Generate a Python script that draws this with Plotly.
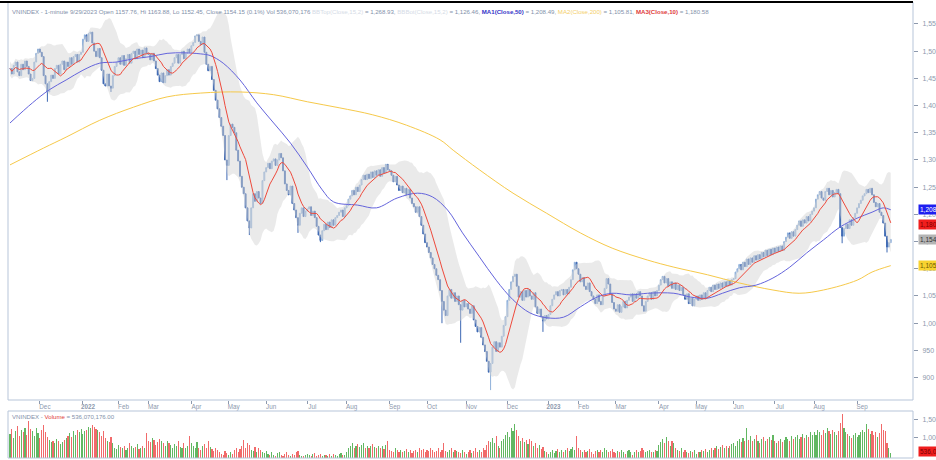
import pandas as pd
import numpy as np
import plotly.graph_objects as go

# ---------------- data ----------------
start_date = "2021-11-09"
end_date = "2023-09-29"
holidays = ["2022-01-03", "2022-01-31", "2022-02-01", "2022-02-02", "2022-02-03", "2022-02-04",
            "2022-04-11", "2022-05-02", "2022-05-03", "2022-09-01", "2022-09-02",
            "2023-01-02", "2023-01-20", "2023-01-23", "2023-01-24", "2023-01-25", "2023-01-26",
            "2023-05-01", "2023-05-02", "2023-05-03", "2023-09-01", "2023-09-04"]

close = [
    # Nov 2021
    1468, 1458, 1474, 1480, 1462, 1455, 1476, 1466, 1482, 1472, 1458, 1446, 1450, 1480, 1496, 1504,
    # Dec 2021
    1498, 1490, 1455, 1440, 1425, 1444, 1456, 1450, 1468, 1474, 1458, 1476, 1482, 1466, 1480, 1472,
    1488, 1476, 1490, 1494, 1480, 1494, 1498,
    # Jan 2022
    1522, 1530, 1518, 1532, 1535, 1515, 1500, 1490, 1505, 1488, 1465, 1440, 1436, 1458, 1436, 1432,
    1455, 1472, 1480,
    # Feb 2022
    1488, 1476, 1492, 1474, 1486, 1494, 1478, 1496, 1500, 1486, 1504, 1494, 1502, 1488, 1506, 1496,
    # Mar 2022
    1494, 1484, 1496, 1482, 1468, 1456, 1444, 1460, 1442, 1455, 1466, 1456, 1472, 1478, 1488, 1494,
    1478, 1494, 1500, 1486, 1496, 1504, 1498,
    # Apr 2022
    1510, 1516, 1528, 1530, 1518, 1512, 1526, 1498, 1476, 1464, 1472, 1448, 1428, 1410, 1394, 1378,
    1362, 1345, 1300, 1290,
    # May 2022
    1345, 1366, 1360, 1350, 1318, 1298, 1270, 1250, 1238, 1212, 1188, 1175, 1212, 1238, 1224, 1242,
    1230, 1220, 1262, 1278,
    # Jun 2022
    1286, 1294, 1284, 1298, 1302, 1290, 1300, 1312, 1304, 1280, 1256, 1244, 1236, 1252, 1220, 1208,
    1194, 1180, 1202, 1212, 1196, 1206,
    # Jul 2022
    1210, 1214, 1198, 1206, 1194, 1178, 1162, 1152, 1170, 1182, 1172, 1186, 1176, 1190, 1180, 1194,
    1198, 1204, 1208, 1196, 1212,
    # Aug 2022
    1216, 1228, 1234, 1244, 1236, 1250, 1242, 1254, 1264, 1272, 1264, 1274, 1266, 1278, 1268, 1280,
    1272, 1282, 1270, 1286, 1276, 1292, 1282,
    # Sep 2022
    1280, 1272, 1260, 1270, 1254, 1244, 1252, 1240, 1248, 1236, 1246, 1230, 1220, 1214, 1204, 1214,
    1196, 1180, 1164, 1148,
    # Oct 2022
    1140, 1130, 1120, 1108, 1100, 1088, 1080, 1060, 1040, 1024, 1014, 1050, 1062, 1046, 1056, 1040,
    1050, 1034, 1024, 1042, 1030,
    # Nov 2022
    1036, 1026, 1018, 1032, 1006, 994, 984, 992, 974, 960, 948, 930, 910, 926, 956, 966,
    948, 964, 956, 976, 996, 1012,
    # Dec 2022
    1042, 1062, 1076, 1086, 1090, 1068, 1048, 1058, 1042, 1060, 1048, 1062, 1050, 1044, 1056, 1030,
    1018, 1026, 1012, 1004, 1014, 1008,
    # Jan 2023
    1016, 1032, 1044, 1052, 1058, 1050, 1060, 1062, 1052, 1062, 1054, 1066, 1080, 1098, 1112, 1100,
    # Feb 2023
    1090, 1076, 1084, 1068, 1062, 1074, 1058, 1050, 1044, 1036, 1052, 1040, 1034, 1050, 1064, 1082,
    1072, 1054, 1038, 1026,
    # Mar 2023
    1022, 1034, 1020, 1030, 1040, 1028, 1042, 1048, 1054, 1040, 1054, 1046, 1058, 1050, 1032, 1022,
    1040, 1050, 1056, 1044, 1058, 1050, 1060,
    # Apr 2023
    1070, 1080, 1086, 1074, 1082, 1068, 1076, 1064, 1074, 1062, 1070, 1060, 1066, 1052, 1044, 1054,
    1036, 1046, 1032, 1044,
    # May 2023
    1050, 1042, 1052, 1044, 1056, 1046, 1060, 1066, 1058, 1070, 1062, 1072, 1064, 1074, 1066, 1076,
    1068, 1078, 1070, 1080,
    # Jun 2023
    1082, 1094, 1100, 1108, 1098, 1112, 1104, 1118, 1108, 1120, 1112, 1124, 1116, 1126, 1118, 1130,
    1122, 1134, 1124, 1136, 1126, 1138,
    # Jul 2023
    1130, 1140, 1132, 1142, 1134, 1150, 1158, 1166, 1156, 1168, 1160, 1172, 1180, 1188, 1178, 1190,
    1184, 1196, 1188, 1200, 1206,
    # Aug 2023
    1212, 1228, 1236, 1242, 1230, 1226, 1242, 1248, 1236, 1244, 1232, 1240, 1246, 1238, 1176, 1160,
    1174, 1182, 1174, 1190, 1180, 1194, 1202,
    # Sep 2023
    1212, 1220, 1226, 1234, 1238, 1246, 1240, 1248, 1236, 1222, 1214, 1220, 1204, 1198, 1184, 1160,
    1140, 1148, 1154,
]

# lower shadows visible on the chart (bar index -> low)
wick_low_idx = [20, 54, 116, 128, 154, 166, 231, 241, 257, 285, 445, 469]
wick_low_val = [1407, 1425, 1263, 1162, 1166, 1149, 1000, 964, 877, 984, 1147, 1130]

volume = [
    # Nov 2021
    1100, 1250, 980, 1180, 1320, 1050, 1200, 1150, 1280, 1080, 1470, 1230, 1180, 1050, 1280, 1120,
    # Dec 2021
    980, 1200, 1350, 1150, 1000, 920, 850, 900, 820, 950, 880, 800, 860, 920, 980, 1050, 1120, 1000,
    1180, 1080, 1200, 1150, 1250,
    # Jan 2022
    1100, 1180, 1220, 1300, 1280, 1350, 1300, 1240, 1200, 1150, 1050, 1180, 980, 900, 850, 1000,
    820, 700, 650,
    # Feb 2022
    780, 720, 680, 750, 640, 700, 820, 760, 680, 720, 800, 650, 700, 740, 690, 1130,
    # Mar 2022
    900, 850, 980, 920, 780, 860, 950, 880, 820, 760, 900, 840, 780, 700, 800, 750, 880, 720, 680,
    820, 700, 760, 1030,
    # Apr 2022
    820, 760, 700, 850, 680, 620, 740, 800, 680, 880, 720, 650, 600, 700, 640, 560, 520, 480, 590, 540,
    # May 2022
    500, 560, 520, 620, 700, 580, 660, 760, 930, 700, 820, 790, 640, 600, 720, 560, 680, 620, 580, 540,
    # Jun 2022
    600, 520, 480, 560, 500, 460, 540, 580, 500, 470, 520, 560, 490, 450, 530, 480, 560, 590, 500,
    470, 450, 500,
    # Jul 2022
    520, 480, 460, 510, 540, 470, 490, 530, 460, 500, 480, 450, 520, 470, 510, 490, 460, 520, 540, 500, 480,
    # Aug 2022
    560, 700, 760, 820, 690, 740, 800, 720, 780, 830, 700, 760, 690, 750, 810, 720, 680, 760, 700,
    740, 650, 780, 880,
    # Sep 2022
    640, 600, 560, 680, 620, 580, 640, 560, 600, 660, 580, 620, 540, 600, 640, 580, 700, 620, 660, 580,
    # Oct 2022
    640, 600, 680, 620, 560, 600, 700, 580, 640, 820, 600, 560, 620, 680, 580, 640, 600, 560, 540, 620, 580,
    # Nov 2022
    520, 560, 620, 540, 600, 680, 580, 640, 560, 700, 620, 780, 900, 860, 980, 820, 1030, 760, 700,
    880, 960, 1080,
    # Dec 2022
    1150, 1020, 1280, 1180, 1380, 1200, 1050, 900, 980, 860, 920, 800, 960, 880, 760, 820, 700, 780,
    650, 720, 600, 560,
    # Jan 2023
    520, 580, 620, 540, 600, 660, 560, 620, 580, 640, 700, 600, 660, 720, 620, 1030,
    # Feb 2023
    700, 640, 580, 620, 560, 600, 660, 580, 520, 600, 640, 560, 620, 580, 700, 640, 560, 600, 660, 580,
    # Mar 2023
    540, 600, 560, 620, 580, 520, 600, 640, 560, 500, 580, 620, 560, 600, 680, 640, 560, 600, 620,
    580, 560, 640, 600,
    # Apr 2023
    780, 860, 940, 820, 1000, 880, 760, 900, 820, 700, 640, 600, 680, 560, 620, 580, 540, 600, 560, 620,
    # May 2023
    520, 580, 560, 620, 600, 660, 580, 640, 700, 620, 680, 740, 660, 720, 780, 700, 760, 680, 740, 800,
    # Jun 2023
    820, 760, 880, 940, 860, 980, 900, 1280, 920, 1040, 880, 960, 1080, 900, 840, 960, 1020, 880,
    940, 1000, 920, 1060,
    # Jul 2023
    900, 820, 880, 960, 860, 920, 1000, 940, 880, 1040, 960, 1000, 1080, 940, 1020, 1100, 980, 1060,
    1000, 1140, 1080,
    # Aug 2023
    1160, 1060, 1220, 1140, 1080, 1200, 1120, 1260, 1180, 1100, 1220, 1140, 1060, 1180, 1400, 1670,
    1280, 1160, 1100, 1040, 980, 1060, 1120,
    # Sep 2023
    1000, 1080, 1140, 1200, 1160, 1370, 1240, 1100, 1180, 1060, 1140, 1000, 1120, 1370, 1220, 1180,
    820, 700, 536,
]

# moving averages (bar index -> value)
ma50_idx = [0, 12, 21, 30, 39, 48, 57, 66, 75, 84, 93, 102, 107, 114, 123, 132, 141, 150, 159, 167,
            173, 186, 196, 207, 218, 226, 234, 242, 251, 260, 269, 278, 287, 296, 305, 314, 322, 332,
            341, 355, 364, 373, 381, 390, 399, 408, 417, 426, 435, 444, 453, 461, 467, 471]
ma50_val = [1368, 1405, 1429, 1447, 1465, 1478, 1480, 1486, 1490, 1496, 1497, 1495, 1492, 1478, 1447,
            1405, 1368, 1331, 1287, 1245, 1223, 1217, 1212, 1230, 1239, 1232, 1208, 1166, 1122, 1079,
            1043, 1019, 1010, 1011, 1030, 1048, 1055, 1052, 1055, 1055, 1048, 1046, 1055, 1065, 1070,
            1083, 1103, 1129, 1153, 1177, 1193, 1204, 1212, 1208.5]
ma200_idx = [0, 18, 30, 48, 66, 84, 102, 123, 141, 159, 176, 194, 212, 230, 237, 251, 269, 287, 305,
             322, 341, 355, 373, 390, 408, 422, 435, 453, 461, 471]
ma200_val = [1291, 1322, 1342, 1373, 1397, 1416, 1423, 1425, 1420, 1407, 1396, 1383, 1364, 1337, 1318,
             1282, 1239, 1202, 1166, 1138, 1116, 1103, 1089, 1074, 1061, 1055, 1061, 1079, 1094, 1105.8]

price_ticks = [900, 950, 1000, 1050, 1100, 1150, 1200, 1250, 1300, 1350, 1400, 1450, 1500, 1550]
month_labels = ["Dec", "<b>2022</b>", "Feb", "Mar", "Apr", "May", "Jun", "Jul", "Aug", "Sep", "Oct",
                "Nov", "Dec", "<b>2023</b>", "Feb", "Mar", "Apr", "May", "Jun", "Jul", "Aug", "Sep"]
volume_ticks = [1000, 1500]
volume_tick_text = ["1,000", "1,500"]

# ---------------- derived ----------------
n = len(close)
dates = pd.bdate_range(start_date, end_date, freq="C", holidays=holidays)[:n]
x = np.arange(n)
c = pd.Series(close, dtype=float)
o = c.shift(1).fillna(c.iloc[0])
hi = np.maximum(o, c)
lo = np.minimum(o, c).copy()
for i, v in zip(wick_low_idx, wick_low_val):
    if i < n:
        lo.iloc[i] = min(lo.iloc[i], v)

ma10 = c.rolling(10, min_periods=1).mean()
mid = c.rolling(15, min_periods=1).mean()
sd = c.rolling(15, min_periods=3).std(ddof=0).bfill()
bb_up = mid + 2 * sd
bb_lo = mid - 2 * sd

month_start = [i for i in range(1, len(dates)) if dates[i].month != dates[i - 1].month]
tickvals = month_start[:len(month_labels)]

vol_colors = ["rgba(70,170,70,0.85)" if c.iloc[i] >= o.iloc[i] else "rgba(238,80,80,0.85)" for i in range(n)]

FONT = "Liberation Sans, Arial, sans-serif"
AX = "#8d99ad"

fig = go.Figure()
fig.add_trace(go.Scatter(x=x, y=bb_lo, mode="lines", line=dict(width=0), hoverinfo="skip"))
fig.add_trace(go.Scatter(x=x, y=bb_up, mode="lines", line=dict(width=0), fill="tonexty",
                         fillcolor="rgba(212,212,212,0.48)", hoverinfo="skip"))
fig.add_trace(go.Scatter(x=ma200_idx, y=ma200_val, mode="lines", line=dict(color="#f6c94a", width=1, shape="spline")))
fig.add_trace(go.Candlestick(x=x, open=o, high=hi, low=lo, close=c,
                             increasing=dict(line=dict(color="#8fb0da", width=1), fillcolor="#c9d9ef"),
                             decreasing=dict(line=dict(color="#3d68b3", width=1), fillcolor="#3d68b3"),
                             whiskerwidth=0))
fig.add_trace(go.Scatter(x=ma50_idx, y=ma50_val, mode="lines", line=dict(color="#6464dc", width=1, shape="spline")))
fig.add_trace(go.Scatter(x=x, y=ma10, mode="lines", line=dict(color="#ee4a3c", width=1)))
fig.add_trace(go.Bar(x=x, y=volume, marker=dict(color=vol_colors, line=dict(width=0)), width=0.6,
                     xaxis="x2", yaxis="y2"))

main_bottom = (458 - 400) / 456
vol_top = (458 - 411) / 456

fig.update_layout(
    width=936, height=460, margin=dict(l=8, r=23, t=2, b=2, autoexpand=False),
    paper_bgcolor="white", plot_bgcolor="white", showlegend=False, bargap=0,
    font=dict(family=FONT, size=7, color=AX),
    xaxis=dict(domain=[0, 1], range=[-1.07, 482.9], anchor="y", tickvals=tickvals, ticktext=month_labels,
               ticks="outside", ticklen=3, tickcolor=AX, tickfont=dict(size=6.3, color=AX, family=FONT),
               ticklabelshift=5, ticklabelstandoff=-3, showgrid=False, zeroline=False,
               rangeslider=dict(visible=False), showline=False),
    xaxis2=dict(domain=[0, 1], range=[-1.07, 482.9], anchor="y2", showticklabels=False, showgrid=False,
                zeroline=False, ticks=""),
    yaxis=dict(domain=[main_bottom, 1], range=[858.8, 1590.4], side="right", tickvals=price_ticks,
               tickformat=",d", ticks="outside", ticklen=4, tickcolor=AX, ticklabelstandoff=3,
               tickfont=dict(size=7, color=AX, family=FONT), showgrid=False, zeroline=False),
    yaxis2=dict(domain=[0, vol_top], range=[400, 1760], side="right", tickvals=volume_ticks,
                ticktext=volume_tick_text, ticks="outside", ticklen=4, tickcolor=AX, ticklabelstandoff=3,
                tickfont=dict(size=7, color=AX, family=FONT), showgrid=False, zeroline=False),
)

BORDER = "#b7c5d9"
fig.add_shape(type="rect", xref="paper", yref="paper", x0=0, x1=1, y0=main_bottom, y1=1,
              line=dict(color=BORDER, width=1))
fig.add_shape(type="rect", xref="paper", yref="paper", x0=0, x1=1, y0=0, y1=vol_top,
              line=dict(color=BORDER, width=1))
fig.add_shape(type="line", xref="paper", yref="paper", x0=-8 / 905, x1=1, y0=1, y1=1,
              line=dict(color="black", width=2))

header = ("VNINDEX - 1-minute 9/29/2023 Open 1157.76, Hi 1163.88, Lo 1152.45, Close 1154.15 (0.1%) Vol 536,070,176 "
          "<span style='color:#d5dbe6'>BBTop(Close,15,2)</span> = 1,268.93, "
          "<span style='color:#d5dbe6'>BBBot(Close,15,2)</span> = 1,126.46, "
          "<span style='color:#3434c8'><b>MA1(Close,50)</b></span> = 1,208.49, "
          "<span style='color:#f4cf6a'>MA2(Close,200)</span> = 1,105.81, "
          "<span style='color:#e03a3a'><b>MA3(Close,10)</b></span> = 1,180.58")
fig.add_annotation(text=header, xref="paper", yref="paper", x=0, y=1, xanchor="left", yanchor="top",
                   xshift=2, yshift=-4, showarrow=False, font=dict(size=6.1, color="#8391aa", family=FONT))
fig.add_annotation(text="VNINDEX - <span style='color:#e03a3a'>Volume</span> = 536,070,176.00",
                   xref="paper", yref="paper", x=0, y=vol_top, xanchor="left", yanchor="top",
                   xshift=2, yshift=0, showarrow=False, font=dict(size=6.1, color="#8391aa", family=FONT))

tags = [(1208.49, "1,208", "#1e1ef0", "white"), (1180.58, "1,180", "#f01e1e", "#7a0000"),
        (1154.15, "1,154", "#b4b4b4", "#333333"), (1105.81, "1,105", "#f8d230", "#6a5a00")]
for val, txt, bg, fg in tags:
    fig.add_annotation(text=txt, xref="paper", yref="y", x=1, y=val, xanchor="left", yanchor="middle",
                       xshift=5, showarrow=False, bgcolor=bg, borderpad=1,
                       font=dict(size=6.5, color=fg, family=FONT))
fig.add_annotation(text="536,070", xref="paper", yref="y2", x=1, y=volume[-1], xanchor="left",
                   yanchor="middle", xshift=5, yshift=2, showarrow=False, bgcolor="#f01e1e", borderpad=1,
                   font=dict(size=6.5, color="#7a0000", family=FONT))

fig.write_html("out.html", config={"displayModeBar": False},
               post_script="document.body.style.margin='0';document.body.style.overflow='hidden';")
